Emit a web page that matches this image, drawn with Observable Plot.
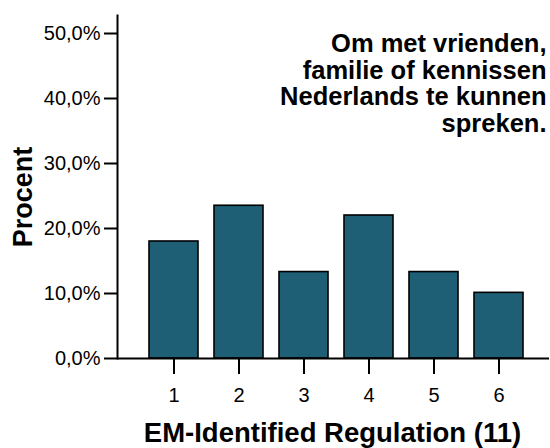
<!DOCTYPE html>
<html>
<head>
<meta charset="utf-8">
<script src="https://cdn.jsdelivr.net/npm/d3@7"></script>
<script src="https://cdn.jsdelivr.net/npm/@observablehq/plot@0.6"></script>
<style>
  html, body { margin: 0; padding: 0; background: #fff; }
  svg { font-family: Arial, "Liberation Sans", sans-serif; }
</style>
</head>
<body>
<div id="chart"></div>
<script>
const categories = ["1", "2", "3", "4", "5", "6"];
const percents = [18.0, 23.5, 13.3, 22.0, 13.3, 10.1];
const yTicks = [0, 10, 20, 30, 40, 50];
const titleLines = ["Om met vrienden,", "familie of kennissen", "Nederlands te kunnen", "spreken."];
const xLabel = "EM-Identified Regulation (11)";
const yLabel = "Procent";

const data = categories.map((c, i) => ({cat: c, pct: percents[i]}));
const fmt = d => d.toFixed(1).replace(".", ",") + "%";

const chart = Plot.plot({
  width: 550,
  height: 448,
  marginTop: 15,
  marginBottom: 90,
  marginLeft: 117,
  marginRight: 1,
  style: {fontFamily: "Arial, 'Liberation Sans', sans-serif", color: "#000", background: "#fff"},
  x: {domain: categories, range: [146.5, 525.7], paddingInner: 0.24, paddingOuter: 0},
  y: {domain: [0, 52.77]},
  marks: [
    Plot.barY(data, {x: "cat", y: "pct", fill: "#1e5f76", stroke: "#000", strokeWidth: 1.6}),
    Plot.frame({anchor: "left", stroke: "#000", strokeWidth: 2}),
    Plot.ruleY([0], {stroke: "#000", strokeWidth: 2}),
    Plot.axisY({ticks: yTicks, tickFormat: fmt, tickSize: 13, tickPadding: 4, fontSize: 20, strokeWidth: 2, label: null}),
    Plot.axisX({tickSize: 16, tickPadding: 13, fontSize: 20, strokeWidth: 2, label: null}),
    Plot.text([yLabel], {frameAnchor: "left", textAnchor: "middle", dx: -94, dy: 10, rotate: -90, fontSize: 27, fontWeight: "bold", fill: "#000"}),
    Plot.text([xLabel], {frameAnchor: "bottom", dx: -1, dy: 64, lineAnchor: "top", fontSize: 27.5, fontWeight: "bold", fill: "#000"}),
    Plot.text([titleLines.join("\n")], {frameAnchor: "top-right", dx: -3, dy: 18, lineAnchor: "top", textAnchor: "end", lineHeight: 1.04, fontSize: 25.5, fontWeight: "bold", fill: "#000"})
  ]
});
document.getElementById("chart").appendChild(chart);
</script>
</body>
</html>
